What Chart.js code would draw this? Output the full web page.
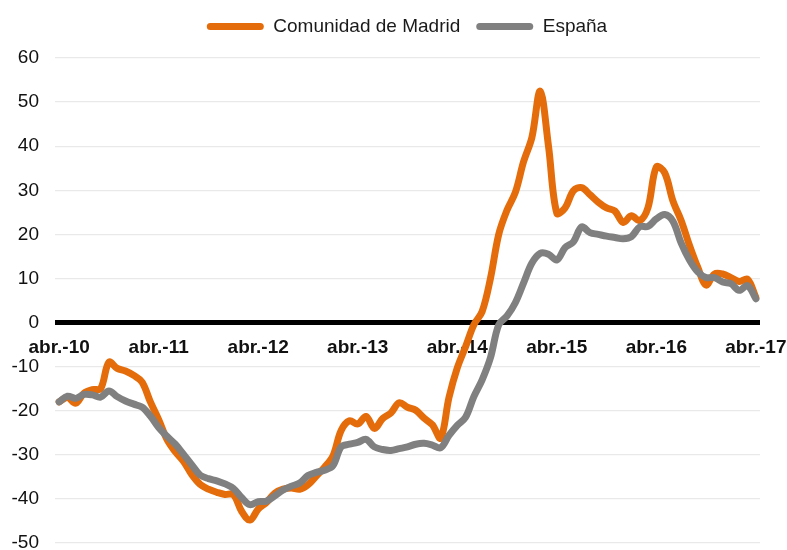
<!DOCTYPE html>
<html>
<head>
<meta charset="utf-8">
<script src="https://cdn.jsdelivr.net/npm/chart.js@4/dist/chart.umd.min.js"></script>
<style>
  html, body { margin: 0; padding: 0; background: #fff; }
  #wrap { width: 787px; height: 550px; position: relative; }
</style>
</head>
<body>
<div id="wrap"><canvas id="c"></canvas></div>
<script>
const categories = [
  "abr.-10","may.-10","jun.-10","jul.-10","ago.-10","sep.-10","oct.-10","nov.-10","dic.-10","ene.-11","feb.-11","mar.-11",
  "abr.-11","may.-11","jun.-11","jul.-11","ago.-11","sep.-11","oct.-11","nov.-11","dic.-11","ene.-12","feb.-12","mar.-12",
  "abr.-12","may.-12","jun.-12","jul.-12","ago.-12","sep.-12","oct.-12","nov.-12","dic.-12","ene.-13","feb.-13","mar.-13",
  "abr.-13","may.-13","jun.-13","jul.-13","ago.-13","sep.-13","oct.-13","nov.-13","dic.-13","ene.-14","feb.-14","mar.-14",
  "abr.-14","may.-14","jun.-14","jul.-14","ago.-14","sep.-14","oct.-14","nov.-14","dic.-14","ene.-15","feb.-15","mar.-15",
  "abr.-15","may.-15","jun.-15","jul.-15","ago.-15","sep.-15","oct.-15","nov.-15","dic.-15","ene.-16","feb.-16","mar.-16",
  "abr.-16","may.-16","jun.-16","jul.-16","ago.-16","sep.-16","oct.-16","nov.-16","dic.-16","ene.-17","feb.-17","mar.-17",
  "abr.-17"
];

const madrid = [
  -18, -17, -18.3, -16, -15.2, -15, -9, -10.4, -11, -12, -13.5, -18,
  -22, -26.5, -29.3, -31.5, -34.5, -36.7, -37.8, -38.5, -39, -39, -42.8, -44.8,
  -42.3, -40.8, -38.7, -37.8, -37.5, -37.8, -36.8, -34.8, -32.8, -30.3, -24.5, -22.3,
  -23, -21.3, -24, -21.8, -20.5, -18.2, -19.2, -19.9, -21.7, -23.2, -26.2, -17,
  -10.3, -5.5, -0.5, 2.5, 10, 20, 25.5, 29.5, 36.5, 42, 52.5, 40,
  24.8, 26, 29.9, 30.6, 29, 27.3, 26, 25.3, 22.7, 24.2, 23.1, 26.1,
  35.3, 34, 27.6, 23.1, 17.5, 12.5, 8.5, 11, 11, 10.2, 9.3, 9.8,
  5.7
];

const espana = [
  -18, -16.7, -17.2, -16.3, -16.4, -16.9, -15.5, -16.8, -17.8, -18.5, -19.2, -21.2,
  -23.8, -25.8, -27.6, -29.9, -32.3, -34.6, -35.4, -35.9, -36.6, -37.6, -39.7, -41.3,
  -40.6, -40.5, -39.3, -38, -37.1, -36.4, -34.7, -34, -33.5, -32.5, -28.2, -27.6,
  -27.2, -26.5, -28.2, -28.8, -29, -28.6, -28.2, -27.6, -27.4, -27.8, -28.4, -25.6,
  -23.3, -21.5, -16.8, -13, -8, -0.5, 1.5, 4.5, 9, 13.5, 15.7, 15.5,
  14.2, 17, 18.3, 21.7, 20.4, 20, 19.6, 19.3, 19, 19.5, 21.7, 21.8,
  23.5, 24.5, 23, 18, 14.2, 11.5, 10.2, 10.2, 9.2, 8.8, 7.3, 8.4,
  5.4
];

const seriesNames = ["Comunidad de Madrid", "España"];
const yTicks = [-50, -40, -30, -20, -10, 0, 10, 20, 30, 40, 50, 60];

const ORANGE = "#E46C0A";
const GRAY = "#808080";
const FONT = "'Liberation Sans', Arial, Helvetica, sans-serif";

const legendTweak = {
  id: "legendTweak",
  beforeInit(chart) {
    const origFit = chart.legend.fit;
    chart.legend.fit = function () {
      origFit.bind(chart.legend)();
      this.height += 12;
    };
  },
  afterLayout(chart) {
    chart.legend.left += 27;
    chart.legend.right += 27;
  }
};

new Chart(document.getElementById("c"), {
  type: "line",
  data: {
    labels: categories,
    datasets: [
      {
        label: seriesNames[0],
        data: madrid,
        borderColor: ORANGE,
        backgroundColor: ORANGE,
        borderWidth: 7,
        pointRadius: 0,
        tension: 0.35,
        borderCapStyle: "round",
        borderJoinStyle: "round",
        fill: false,
        order: 1
      },
      {
        label: seriesNames[1],
        data: espana,
        borderColor: GRAY,
        backgroundColor: GRAY,
        borderWidth: 7,
        pointRadius: 0,
        tension: 0.35,
        borderCapStyle: "round",
        borderJoinStyle: "round",
        fill: false,
        order: 0
      }
    ]
  },
  plugins: [legendTweak],
  options: {
    responsive: true,
    maintainAspectRatio: false,
    animation: false,
    layout: { autoPadding: false, padding: { top: 1, right: 27, bottom: 7, left: 0 } },
    plugins: {
      tooltip: { enabled: false },
      legend: {
        display: true,
        position: "top",
        labels: {
          sort: (a, b) => a.datasetIndex - b.datasetIndex,
          boxWidth: 57,
          boxHeight: 7,
          useBorderRadius: true,
          borderRadius: 3.5,
          padding: 16,
          color: "#1a1a1a",
          font: { family: FONT, size: 19 },
          generateLabels(chart) {
            return chart.data.datasets.map((ds, i) => ({
              text: ds.label,
              fillStyle: ds.borderColor,
              strokeStyle: ds.borderColor,
              lineWidth: 0,
              hidden: false,
              datasetIndex: i,
              borderRadius: 3.5,
              fontColor: "#1a1a1a"
            }));
          }
        }
      }
    },
    scales: {
      x: {
        type: "category",
        position: { y: 0 },
        offset: true,
        grid: { display: false, drawTicks: false },
        border: { display: false },
        afterFit(scale) {
          scale.paddingLeft = 0; scale.paddingRight = 0;
          scale.paddingTop = 0; scale.paddingBottom = 0;
        },
        ticks: {
          autoSkip: false,
          maxRotation: 0,
          minRotation: 0,
          padding: 14,
          color: "#111",
          font: { family: FONT, size: 19, weight: "bold" },
          callback(value, index) {
            return index % 12 === 0 ? categories[index] : "";
          }
        }
      },
      y: {
        min: yTicks[0],
        max: yTicks[yTicks.length - 1],
        afterBuildTicks(scale) {
          scale.ticks = yTicks.map(v => ({ value: v }));
        },
        afterFit(scale) {
          scale.width = 55;
          scale.paddingTop = 0; scale.paddingBottom = 0;
          scale.paddingLeft = 0; scale.paddingRight = 0;
        },
        grid: {
          drawTicks: false,
          color: (ctx) => ctx.tick && ctx.tick.value === 0 ? "#000000" : "#e9e9e9",
          lineWidth: (ctx) => ctx.tick && ctx.tick.value === 0 ? 5 : 1.3
        },
        border: { display: false },
        ticks: {
          padding: 16,
          color: "#111",
          font: { family: FONT, size: 19 }
        }
      }
    }
  }
});
</script>
</body>
</html>
